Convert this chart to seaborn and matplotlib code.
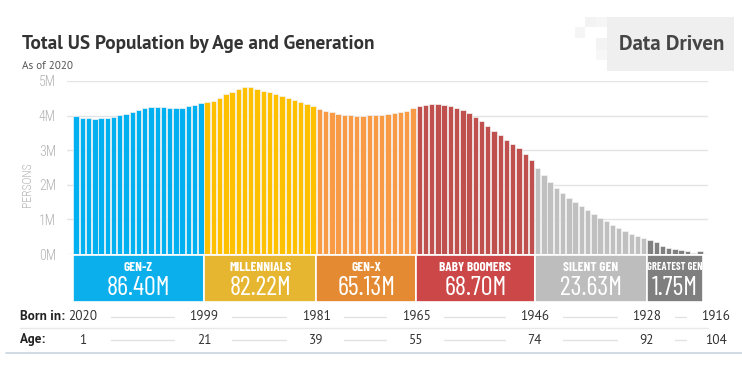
import numpy as np
import pandas as pd
import matplotlib
matplotlib.use('Agg')
import matplotlib.pyplot as plt
import matplotlib.transforms as mtransforms
import seaborn as sns

# population by single year of age, millions
gen_z = [4.00, 3.94, 3.92, 3.91, 3.92, 3.93, 3.96, 4.02, 4.06, 4.10, 4.15,
         4.21, 4.25, 4.26, 4.25, 4.23, 4.22, 4.23, 4.27, 4.32, 4.35]
millennials = [4.40, 4.43, 4.52, 4.61, 4.69, 4.77, 4.83, 4.83, 4.77, 4.72,
               4.68, 4.61, 4.56, 4.51, 4.44, 4.39, 4.33, 4.27]
gen_x = [4.20, 4.14, 4.09, 4.05, 4.03, 4.02, 4.00, 4.00, 4.01, 4.02, 4.03,
         4.05, 4.08, 4.11, 4.14, 4.21]
boomers = [4.27, 4.32, 4.34, 4.34, 4.32, 4.27, 4.22, 4.16, 4.08, 3.96, 3.83,
           3.70, 3.56, 3.44, 3.30, 3.18, 3.05, 2.90, 2.72]
silent = [2.49, 2.29, 2.09, 1.91, 1.76, 1.63, 1.51, 1.39, 1.28, 1.16, 1.05,
          0.95, 0.85, 0.75, 0.67, 0.59, 0.52, 0.46]
greatest = [0.41, 0.34, 0.23, 0.17, 0.15, 0.12, 0.08, 0.04, 0.08]

generations = ['GEN-Z', 'MILLENNIALS', 'GEN-X', 'BABY BOOMERS', 'SILENT GEN', 'GREATEST GEN']
totals = ['86.40M', '82.22M', '65.13M', '68.70M', '23.63M', '1.75M']
bar_colors = ['#00B0F0', '#FFC000', '#F99B45', '#C0504D', '#C0C0C0', '#808080']
box_colors = ['#0AAFEC', '#E6B630', '#E38A32', '#CC4848', '#BDBDBD', '#7F7F7F']
born_years = ['2020', '1999', '1981', '1965', '1946', '1928', '1916']
ages = ['1', '21', '39', '55', '74', '92', '104']

series = [gen_z, millennials, gen_x, boomers, silent, greatest]
rows = []
for g, vals in zip(generations, series):
    for v in vals:
        rows.append((g, v))
df = pd.DataFrame(rows, columns=['gen', 'pop'])
df['idx'] = np.arange(len(df))

sns.set_style('white')
plt.rcParams['font.family'] = ['PT Sans', 'Lato', 'DejaVu Sans']
cond = ['Barlow Condensed', 'Roboto Condensed', 'DejaVu Sans']
tickfont = ['Roboto Condensed', 'Barlow Condensed', 'DejaVu Sans']

W, H = 742, 367
fig = plt.figure(figsize=(W / 100, H / 100), dpi=100)

def fx(px):
    return px / W

def fy(py):
    return 1 - py / H

pitch = (703 - 73) / len(df)
x0 = -0.5 - (73 - 67) / pitch
x1 = len(df) - 0.5 + (708 - 703) / pitch

ax = fig.add_axes([fx(67), fy(254), fx(708) - fx(67), fy(81) - fy(254)])
sns.barplot(data=df, x='idx', y='pop', hue='gen', palette=dict(zip(generations, bar_colors)),
            dodge=False, width=0.86, edgecolor='#f4f4f4', linewidth=0.5, legend=False,
            saturation=1, ax=ax)
ax.set_xlim(x0, x1)
ax.set_ylim(0, 5)
ax.set_xticks([])
ax.set_yticks(range(6))
ax.set_yticklabels([f'{i}M' for i in range(6)], fontfamily=tickfont, fontweight='light',
                   fontsize=10, color='#b3b3b3')
ax.tick_params(axis='y', length=0, pad=8)
ax.yaxis.grid(True, color='#e4e4e4', linewidth=1)
ax.set_axisbelow(True)
for s in ax.spines.values():
    s.set_visible(False)
ax.set_xlabel('')
ax.set_ylabel('')
fig.text(fx(27), fy(185), 'PERSONS', rotation=90, ha='center', va='center',
         fontfamily=tickfont, fontweight='light', fontsize=8.5, color='#b3b3b3')

# generation boxes
counts = np.array([len(s) for s in series])
left = np.concatenate([[0], np.cumsum(counts)[:-1]]) - 0.5
centers = left + counts / 2
bx = fig.add_axes([fx(67), fy(302), fx(708) - fx(67), fy(255) - fy(302)])
bx.bar(centers, 1, width=counts, color=box_colors, edgecolor='white', linewidth=1.2)
bx.set_xlim(x0, x1)
bx.set_ylim(0, 1)
bx.axis('off')
for c, n, g, t in zip(centers, counts, generations, totals):
    small = n < 12
    bx.text(c, 0.74, g, ha='center', va='center', color='white', fontfamily=cond,
            fontweight='bold', fontsize=7.5 if small else 9.5)
    bx.text(c, 0.30, t, ha='center', va='center', color='white', fontfamily=cond,
            fontweight='normal', fontsize=19)

# born / age rows
tr = mtransforms.blended_transform_factory(ax.transData, fig.transFigure)
edges = np.concatenate([[-0.5], np.cumsum(counts) - 0.5])
label_x = edges.copy()
label_x[0] = -0.5 + 10 / pitch
label_x[-1] = edges[-1] + 13 / pitch
for yy, head, vals in [(317, 'Born in:', born_years), (340, 'Age:', ages)]:
    fig.text(fx(20), fy(yy), head, ha='left', va='center', fontsize=9.5,
             fontweight='bold', color='#222222')
    for xv, lab in zip(label_x, vals):
        ax.text(xv, fy(yy), lab, transform=tr, ha='center', va='center',
                fontsize=9.5, color='#333333', clip_on=False)
    for a, b in zip(label_x[:-1], label_x[1:]):
        ax.plot([a + 28 / pitch, b - 30 / pitch], [fy(yy), fy(yy)], transform=tr,
                color='#e2e2e2', lw=1, clip_on=False)
fig.add_artist(plt.Line2D([fx(20), fx(708)], [fy(327.5), fy(327.5)], color='#e8e8e8', lw=1))
fig.add_artist(plt.Line2D([fx(6), fx(742)], [fy(353), fy(353)], color='#c9d6e0', lw=1.2))

# titles
fig.text(fx(22), fy(44), 'Total US Population by Age and Generation', ha='left', va='center',
         fontsize=13.9, fontweight='bold', color='#333333')
fig.text(fx(22), fy(66), 'As of 2020', ha='left', va='center', fontsize=8, color='#555555')

# logo
for (sx, sy, sw, sh, col) in [(585, 17, 11, 10, '#f3f3f3'), (596, 17, 11, 10, '#f6f6f6'),
                              (575, 27, 10, 11, '#f5f5f5'), (596, 38, 11, 12, '#f3f3f3'),
                              (596, 50, 11, 10, '#f7f7f7')]:
    fig.add_artist(plt.Rectangle((fx(sx), fy(sy + sh)), sw / W, sh / H, color=col, lw=0))
fig.add_artist(plt.Rectangle((fx(607), fy(71)), (734 - 607) / W, (71 - 17) / H,
                             color='#efefef', lw=0))
fig.text(fx(672), fy(44), 'Data Driven', ha='center', va='center', fontsize=15,
         fontweight='bold', color='#454545')

fig.savefig('out.png', dpi=100)
